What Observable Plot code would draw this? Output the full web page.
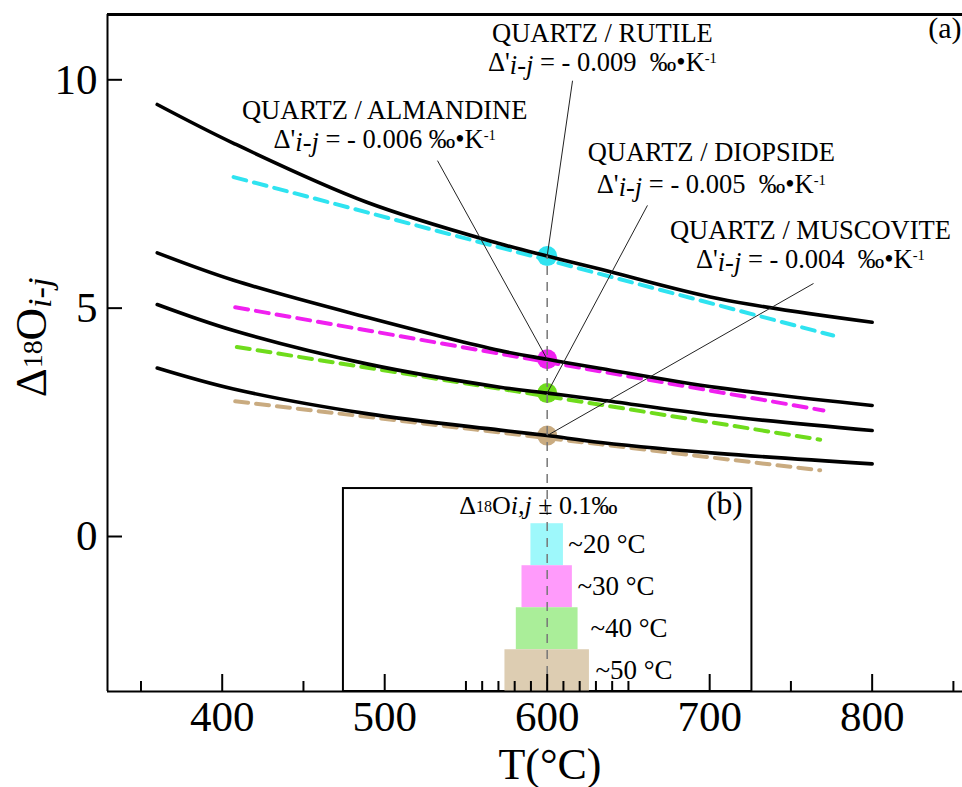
<!DOCTYPE html>
<html><head><meta charset="utf-8">
<script src="https://cdn.jsdelivr.net/npm/d3@7"></script>
<script src="https://cdn.jsdelivr.net/npm/@observablehq/plot@0.6"></script>
<style>body{margin:0;background:#fff;}</style>
</head><body><div id="chart"></div>
<script>
// ---------- data ----------
const minerals = ["RUTILE", "ALMANDINE", "DIOPSIDE", "MUSCOVITE"];
const slopeLabels = ["0.009\u00a0 ", "0.006 ", "0.005\u00a0 ", "0.004\u00a0 "];
const curveT = [360, 407, 489, 571, 600, 633, 705, 800];
const rutileCurve    = [9.46, 8.61, 7.32, 6.41, 6.14, 5.85, 5.21, 4.69];
const almandineCurve = [6.21, 5.61, 4.80, 4.07, 3.88, 3.68, 3.26, 2.87];
const diopsideCurve  = [5.08, 4.51, 3.78, 3.27, 3.14, 2.99, 2.65, 2.32];
const muscoviteCurve = [3.69, 3.23, 2.69, 2.33, 2.21, 2.06, 1.82, 1.59];
const tangentStartT = [407, 408, 409, 408];
const tangentStartV = [7.87, 5.02, 4.15, 2.96];
const tangentEndT   = [776, 770, 768, 768];
const tangentEndV   = [4.40, 2.76, 2.12, 1.45];
const refT = 600;
const refValues = [6.14, 3.88, 3.14, 2.21];
const rangeLabels = ["~20 °C", "~30 °C", "~40 °C", "~50 °C"];
const rangeWidths = [20, 31, 38, 52];
const xMajorTicks = [400, 500, 600, 700, 800];
const xMinorTicks = [350, 450, 550, 560, 570, 580, 590, 610, 620, 630, 640, 650, 750, 850];
const yMajorTicks = [0, 5, 10];

// ---------- styling / layout ----------
const lineColors = ["#2fe3f0", "#f020f0", "#6fdc1c", "#c9ab80"];
const barColors  = ["#9ef8fb", "#ff9bfb", "#aaee99", "#ddcdb2"];
const W = 962, H = 787, mL = 107, mR = 0, mT = 14, mB = 96;
const xDomain = [329.4, 855.6];
const yDomain = [-3.394, 11.43];
const frameH = H - mT - mB, frameW = W - mL - mR;
const annotPos = [
  {x: 634, y1: 10.83, y2: 10.19, lx: 615.6, ly: 9.98},
  {x: 500, y1: 9.14, y2: 8.50, lx: 532.5, ly: 8.23},
  {x: 701, y1: 8.23, y2: 7.53, lx: 661.7, ly: 7.25},
  {x: 762, y1: 6.52, y2: 5.88, lx: 763.9, ly: 5.54}
];
const inset = {x1: 474.6, x2: 726, y1: yDomain[0], y2: 1.05, rowTop: 0.28, rowStep: 0.92};
const rangeLabelX = [613, 618.6, 626.6, 629.7];
const serif = "'Liberation Serif','Times New Roman',serif";

const curveSets = [rutileCurve, almandineCurve, diopsideCurve, muscoviteCurve];
const curves = curveSets.map(vals => curveT.map((t, j) => ({T: t, v: vals[j]})));
const tangents = minerals.map((m, i) => [
  {T: tangentStartT[i], v: tangentStartV[i]},
  {T: tangentEndT[i], v: tangentEndV[i]}
]);
const refPoints = minerals.map((m, i) => ({T: refT, v: refValues[i], color: lineColors[i]}));
const leaders = minerals.map((m, i) => ({x1: annotPos[i].lx, y1: annotPos[i].ly, x2: refT, y2: refValues[i]}));
const annotLines = minerals.flatMap((m, i) => [
  {x: annotPos[i].x, y: annotPos[i].y1, text: `QUARTZ / ${m}`},
  {x: annotPos[i].x, y: annotPos[i].y2, text: `Δ'_{i-j} = - ${slopeLabels[i]}‰•K^{-1}`}
]);
const bars = rangeWidths.map((w, i) => ({
  x1: refT - w / 2, x2: refT + w / 2,
  y1: inset.rowTop - inset.rowStep * i, y2: inset.rowTop - inset.rowStep * (i + 1),
  fill: barColors[i], label: rangeLabels[i], lx: rangeLabelX[i],
  ly: inset.rowTop - inset.rowStep * (i + 0.5)
}));

const marks = [];
tangents.forEach((t, i) => marks.push(Plot.line(t, {x: "T", y: "v", stroke: lineColors[i], strokeWidth: 4, strokeDasharray: "13,8"})));
marks.push(Plot.dot(refPoints, {x: "T", y: "v", r: 10, fill: d => d.color, stroke: "none"}));
curves.forEach(c => marks.push(Plot.line(c, {x: "T", y: "v", stroke: "black", strokeWidth: 3.6, curve: "catmull-rom"})));
marks.push(Plot.rect([inset], {x1: "x1", x2: "x2", y1: "y1", y2: "y2", fill: "white", stroke: "black", strokeWidth: 2}));
marks.push(Plot.rect(bars, {x1: "x1", x2: "x2", y1: "y1", y2: "y2", fill: d => d.fill}));
marks.push(Plot.ruleX([refT], {x: d => d, y1: () => yDomain[0], y2: () => refValues[0], stroke: "#777", strokeWidth: 1.5, strokeDasharray: "9,7"}));
marks.push(Plot.link(leaders, {x1: "x1", y1: "y1", x2: "x2", y2: "y2", stroke: "#222", strokeWidth: 1}));
marks.push(Plot.tickX(xMajorTicks, {x: d => d, insetTop: frameH - 17, stroke: "black", strokeWidth: 2}));
marks.push(Plot.tickX(xMinorTicks, {x: d => d, insetTop: frameH - 10, stroke: "black", strokeWidth: 2}));
marks.push(Plot.tickY(yMajorTicks, {y: d => d, insetRight: frameW - 15, stroke: "black", strokeWidth: 2}));
marks.push(Plot.ruleY([yDomain[1]], {y: d => d, stroke: "black", strokeWidth: 3}));
marks.push(Plot.ruleY([yDomain[0]], {y: d => d, stroke: "black", strokeWidth: 2}));
marks.push(Plot.ruleX([xDomain[0]], {x: d => d, stroke: "black", strokeWidth: 2}));
marks.push(Plot.text(annotLines, {x: "x", y: "y", text: "text", fontSize: 26.5, textAnchor: "middle", lineAnchor: "bottom", fill: "black"}));
marks.push(Plot.text(bars, {x: "lx", y: "ly", text: "label", fontSize: 27, textAnchor: "start", lineAnchor: "middle", fill: "black"}));
marks.push(Plot.text([{x: 594.6, y: 0.50, t: "Δ#{18}O*{i,j} ± 0.1‰"}], {x: "x", y: "y", text: "t", fontSize: 26, textAnchor: "middle", lineAnchor: "bottom", fill: "black"}));
marks.push(Plot.text([{x: 720.3, y: 0.50, t: "(b)"}], {x: "x", y: "y", text: "t", fontSize: 31, textAnchor: "end", lineAnchor: "bottom", fill: "black"}));
marks.push(Plot.text([{x: 855, y: 10.92, t: "(a)"}], {x: "x", y: "y", text: "t", fontSize: 30, textAnchor: "end", lineAnchor: "bottom", fill: "black"}));
marks.push(Plot.text([{x: 601.7, y: -5.30, t: "T(°C)"}], {x: "x", y: "y", text: "t", fontSize: 44, textAnchor: "middle", lineAnchor: "bottom", fill: "black"}));
marks.push(Plot.text([{x: 291.3, y: 4.36, t: "Δ#{18}O$_{i-j}"}], {x: "x", y: "y", text: "t", fontSize: 45, rotate: -90, textAnchor: "middle", lineAnchor: "bottom", fill: "black"}));

const plot = Plot.plot({
  width: W, height: H,
  marginLeft: mL, marginRight: mR, marginTop: mT, marginBottom: mB,
  style: {fontFamily: serif, fontSize: "43px", background: "white", color: "black", overflow: "visible"},
  x: {domain: xDomain, ticks: xMajorTicks, tickSize: 0, tickPadding: 9, label: null},
  y: {domain: yDomain, ticks: yMajorTicks, tickSize: 0, tickPadding: 10, label: null},
  marks
});

const SVGNS = "http://www.w3.org/2000/svg";
function richify(el) {
  const s = el.textContent;
  if (!/[_^#*$]\{|\$_\{/.test(s)) return;
  while (el.firstChild) el.removeChild(el.firstChild);
  const re = /(\$_|[_^#*])\{([^}]*)\}|([^_^#*$]+)/g;
  let m;
  while ((m = re.exec(s)) !== null) {
    const t = document.createElementNS(SVGNS, "tspan");
    if (m[3] !== undefined) { t.textContent = m[3]; }
    else {
      t.textContent = m[2];
      if (m[1] === "_") { t.setAttribute("font-style", "italic"); t.setAttribute("baseline-shift", "-0.13em"); }
      else if (m[1] === "$_") { t.setAttribute("font-style", "italic"); t.setAttribute("font-size", "76%"); t.setAttribute("baseline-shift", "-0.15em"); }
      else if (m[1] === "*") { t.setAttribute("font-style", "italic"); }
      else if (m[1] === "^") { t.setAttribute("font-size", "55%"); t.setAttribute("baseline-shift", "0.55em"); }
      else if (m[1] === "#") { t.setAttribute("font-size", "62%"); t.setAttribute("baseline-shift", "0.15em"); }
    }
    el.appendChild(t);
  }
}
d3.select(plot).selectAll("text").each(function () { richify(this); });
document.getElementById("chart").appendChild(plot);
</script>
</body></html>
